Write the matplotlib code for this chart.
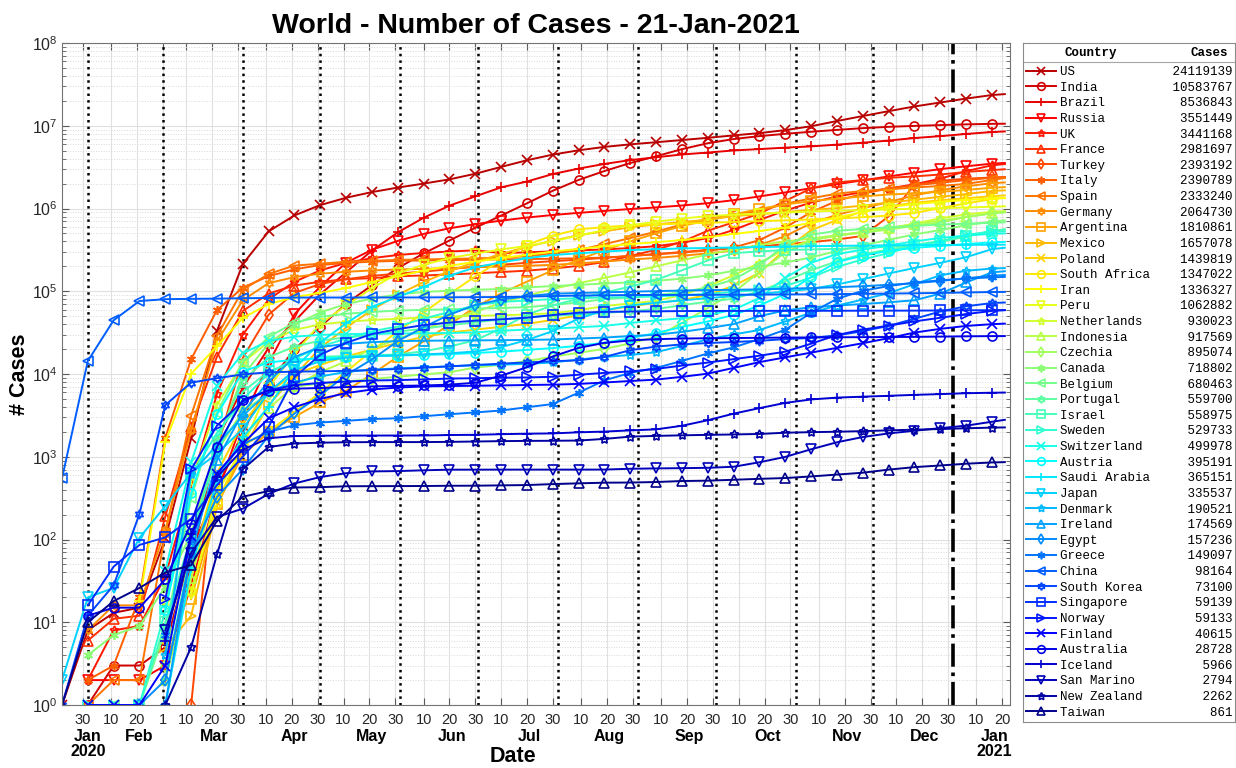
import numpy as np
import matplotlib
matplotlib.use("Agg")
import matplotlib.pyplot as plt
from matplotlib.font_manager import FontProperties

plt.rcParams['font.family'] = ['Liberation Sans', 'DejaVu Sans']

# sample dates (every 10 days, last one = report day)
dates = ['2020-01-22', '2020-02-01', '2020-02-11', '2020-02-21', '2020-03-02', '2020-03-12',
         '2020-03-22', '2020-04-01', '2020-04-11', '2020-04-21', '2020-05-01', '2020-05-11',
         '2020-05-21', '2020-05-31', '2020-06-10', '2020-06-20', '2020-06-30', '2020-07-10',
         '2020-07-20', '2020-07-30', '2020-08-09', '2020-08-19', '2020-08-29', '2020-09-08',
         '2020-09-18', '2020-09-28', '2020-10-08', '2020-10-18', '2020-10-28', '2020-11-07',
         '2020-11-17', '2020-11-27', '2020-12-07', '2020-12-17', '2020-12-27', '2021-01-06',
         '2021-01-16', '2021-01-21']

countries = ['US', 'India', 'Brazil', 'Russia', 'UK', 'France', 'Turkey', 'Italy', 'Spain',
             'Germany', 'Argentina', 'Mexico', 'Poland', 'South Africa', 'Iran', 'Peru',
             'Netherlands', 'Indonesia', 'Czechia', 'Canada', 'Belgium', 'Portugal', 'Israel',
             'Sweden', 'Switzerland', 'Austria', 'Saudi Arabia', 'Japan', 'Denmark', 'Ireland',
             'Egypt', 'Greece', 'China', 'South Korea', 'Singapore', 'Norway', 'Finland',
             'Australia', 'Iceland', 'San Marino', 'New Zealand', 'Taiwan']

# cumulative confirmed cases at the dates above
us = [1, 8, 13, 15, 103, 1663, 33272, 213372, 529000, 825000, 1100000, 1350000, 1580000,
      1790000, 2000000, 2250000, 2630000, 3180000, 3830000, 4480000, 5050000, 5550000, 5960000,
      6320000, 6720000, 7150000, 7650000, 8150000, 8860000, 9860000, 11400000, 13100000,
      15000000, 17100000, 19100000, 21300000, 23500000, 24119139]
india = [0, 1, 3, 3, 5, 73, 396, 1998, 7600, 20080, 37257, 70768, 118226, 190609, 286579,
         410451, 585493, 820916, 1155191, 1638870, 2215074, 2836925, 3542733, 4280422, 5214677,
         6145291, 6906151, 7494551, 7990322, 8462080, 8912907, 9351109, 9703770, 9956557,
         10187850, 10395278, 10543659, 10583767]
brazil = [0, 0, 0, 0, 2, 52, 1593, 6836, 20727, 43079, 92202, 169594, 310087, 514849, 772416,
          1083341, 1402041, 1800827, 2118646, 2610102, 3035422, 3456652, 3846153, 4162073,
          4495183, 4745464, 5028444, 5224362, 5439641, 5631181, 5911758, 6238350, 6623911,
          7110434, 7484285, 7961673, 8393492, 8536843]
russia = [0, 2, 2, 2, 3, 28, 367, 2777, 13584, 52763, 114431, 221344, 317554, 405843, 493023,
          576952, 646929, 713936, 777486, 834499, 885718, 935066, 985346, 1030690, 1086955,
          1159573, 1260112, 1399334, 1563976, 1760002, 1971013, 2187990, 2439163, 2707945,
          2992706, 3236787, 3483531, 3551449]
uk = [0, 2, 8, 9, 36, 459, 5741, 29865, 79874, 130172, 178685, 220449, 251192, 274219, 290143,
      302138, 312640, 288953, 295372, 303181, 311641, 320286, 332752, 350100, 385936, 439013,
      549997, 726483, 945378, 1177415, 1394299, 1582357, 1743102, 1961911, 2294369, 2825007,
      3327125, 3441168]
france = [0, 6, 11, 12, 191, 2284, 16243, 57749, 93790, 117324, 130185, 139519, 144163, 151753,
          155136, 159452, 164801, 170752, 177338, 187919, 202775, 225043, 267077, 317706, 396032,
          538569, 681256, 867197, 1235132, 1748705, 2065138, 2208699, 2345648, 2442990, 2574041,
          2767312, 2910989, 2981697]
turkey = [0, 0, 0, 0, 0, 1, 1236, 15679, 52167, 95591, 122392, 139771, 153548, 163103, 173036,
          184031, 199906, 208938, 220572, 230873, 240804, 253108, 266546, 281509, 297717,
          315845, 330388, 347231, 370832, 391739, 421413, 467000, 800000, 1930000, 2160000,
          2290000, 2370000, 2393192]
italy = [0, 2, 3, 20, 1694, 15113, 59138, 110574, 152271, 183957, 207428, 219814, 228006,
         232997, 235763, 238159, 240578, 242639, 244624, 247158, 250103, 255278, 266853, 280153,
         293025, 311364, 338398, 414241, 589766, 902490, 1238072, 1509875, 1742557, 1906377,
         2047696, 2201945, 2352423, 2390789]
spain = [0, 1, 2, 2, 120, 3146, 28768, 104118, 161852, 204178, 215216, 227436, 233037, 239479,
         242280, 245938, 249659, 253908, 264836, 285430, 314362, 370867, 439286, 525549, 640040,
         748266, 848324, 936560, 1136503, 1328832, 1510023, 1628208, 1702328, 1797236, 1869610,
         1982544, 2211967, 2333240]
germany = [0, 8, 16, 16, 130, 2078, 24873, 77872, 125452, 148291, 163009, 171879, 178531,
           183189, 186522, 190299, 195042, 198963, 202799, 208546, 216903, 228621, 242126,
           252298, 267773, 287421, 310144, 361974, 464239, 663706, 837404, 1006394, 1197709,
           1437360, 1665204, 1854396, 2020000, 2064730]
argentina = [0, 0, 0, 0, 0, 19, 266, 1054, 1975, 3031, 4532, 6278, 9931, 16214, 24761, 39570,
             64530, 94060, 130774, 178996, 241811, 312659, 401239, 500034, 613658, 723132,
             848049, 989680, 1116609, 1228814, 1318384, 1399431, 1475222, 1524372, 1590513,
             1676171, 1783047, 1810861]
mexico = [0, 0, 0, 0, 5, 12, 251, 1215, 4219, 9501, 20739, 36327, 59567, 90664, 129184, 175202,
          226089, 282283, 344224, 408449, 475902, 531239, 591712, 642860, 688954, 730317, 809751,
          851227, 906863, 961938, 1011153, 1084207, 1175850, 1277499, 1383434, 1493569, 1630258,
          1657078]
poland = [0, 0, 0, 0, 0, 49, 634, 2554, 6088, 9856, 12877, 16326, 19739, 23786, 28201, 31620,
          34393, 37216, 40383, 45031, 51167, 58611, 66062, 71947, 78330, 89962, 116338, 167230,
          319205, 546425, 725122, 924422, 1063449, 1171854, 1257799, 1329966, 1410000, 1439819]
south_africa = [0, 0, 0, 0, 0, 24, 274, 1380, 2028, 3465, 5951, 10652, 19137, 32683, 55421,
                92681, 151209, 238339, 364328, 471123, 559859, 596060, 625056, 640441, 657627,
                671669, 686891, 703793, 719714, 737278, 757144, 785139, 821889, 882325, 1011871,
                1149591, 1300000, 1347022]
iran = [0, 0, 0, 18, 1501, 10075, 21638, 47593, 70029, 84802, 95646, 109286, 129341, 151466,
        177938, 202584, 227662, 250458, 276202, 301530, 324692, 347835, 371816, 391112, 416198,
        449960, 492378, 534631, 588648, 673250, 775121, 908346, 1040547, 1131077, 1200465,
        1268263, 1320000, 1336327]
peru = [0, 0, 0, 0, 0, 22, 363, 1323, 6848, 17837, 40459, 67307, 108769, 164476, 208823,
        251338, 285213, 319646, 353590, 400683, 471012, 549321, 629961, 691575, 756412, 808714,
        839534, 868675, 892497, 920010, 938268, 957811, 976116, 993827, 1008908, 1027602,
        1050000, 1062882]
netherlands = [0, 0, 0, 0, 18, 503, 4216, 13696, 24571, 34134, 39791, 42788, 44888, 46545,
               47945, 49722, 50487, 51252, 52404, 54301, 59055, 66221, 71129, 76548, 90047,
               114540, 156129, 219880, 323505, 414090, 468839, 513637, 569657, 656018, 762226,
               848932, 911000, 930023]
indonesia = [0, 0, 0, 0, 2, 34, 514, 1677, 3842, 7135, 10551, 14265, 20162, 26473, 34316, 45029,
             56385, 72347, 88214, 106336, 125396, 144945, 169195, 200035, 236519, 278722, 320564,
             361867, 400483, 433836, 474455, 522581, 581550, 650197, 713365, 788402, 880000,
             917569]
czechia = [0, 0, 0, 0, 3, 116, 1165, 3589, 5732, 7033, 7682, 8123, 8699, 9268, 9892, 10514,
           11954, 12919, 14324, 16213, 18050, 20094, 23441, 28156, 41406, 62522, 97059, 170620,
           293940, 412964, 472669, 514637, 553891, 621138, 678613, 787852, 872000, 895074]
canada = [0, 4, 7, 9, 27, 117, 1465, 9560, 23318, 39401, 55572, 70091, 81324, 91681, 97943,
          101637, 104204, 106434, 111124, 115470, 119451, 123873, 127940, 133748, 141911, 155301,
          176353, 198151, 222887, 256148, 306468, 359064, 418208, 486255, 549426, 628016, 694000,
          718802]
belgium = [0, 0, 1, 1, 8, 314, 3401, 13964, 28018, 41889, 49032, 53449, 56235, 58381, 59569,
           60550, 61727, 62781, 64258, 68006, 73401, 79826, 84577, 89450, 97525, 111189, 138422,
           206845, 360200, 482237, 537874, 565999, 590426, 615883, 639734, 655585, 671000,
           680463]
portugal = [0, 0, 0, 0, 2, 78, 1600, 8251, 15987, 21379, 25351, 27679, 29660, 32500, 35306,
            38841, 42141, 45679, 48390, 50868, 52351, 54701, 57448, 60895, 68025, 74717, 81256,
            99911, 132616, 179324, 230124, 280394, 318640, 358296, 394573, 456533, 528469,
            559700]
israel = [0, 0, 0, 1, 10, 109, 1071, 6092, 10743, 13942, 16101, 16506, 16717, 17285, 18795,
          21512, 25547, 35533, 52003, 67542, 80991, 96521, 113655, 136823, 179071, 235629,
          288440, 303109, 314649, 319727, 325410, 332317, 345409, 362950, 403536, 466154,
          537000, 558975]
sweden = [0, 1, 1, 1, 14, 599, 1934, 4947, 10151, 15322, 21520, 26670, 32809, 37542, 46814,
          56043, 67667, 74333, 77281, 80422, 82323, 84294, 84532, 86505, 89436, 92863, 98451,
          103200, 115785, 146461, 196446, 243129, 288499, 357466, 396048, 482043, 523486,
          529733]
switzerland = [0, 0, 0, 0, 42, 858, 7245, 17768, 25107, 28268, 29705, 30305, 30658, 30871,
               31011, 31292, 31851, 33290, 34477, 35232, 36708, 38124, 41346, 44401, 47179,
               51492, 59709, 83159, 145044, 221093, 280648, 318290, 358568, 400236, 440807,
               470789, 495000, 499978]
austria = [0, 0, 0, 0, 14, 361, 3244, 10711, 13806, 14873, 15452, 15833, 16404, 16731, 17005,
           17341, 17941, 18597, 19573, 20558, 21919, 23842, 27133, 31259, 37095, 43191, 51765,
           67207, 92932, 149011, 225099, 269676, 308617, 334521, 352646, 371683, 390000,
           395191]
saudi_arabia = [0, 0, 0, 0, 1, 45, 511, 1720, 4033, 11631, 24097, 41014, 65077, 85261,
                112288, 154233, 194225, 223327, 250920, 274219, 287262, 300933, 313911, 322237,
                329271, 333648, 337711, 341854, 346047, 349936, 353255, 356389, 358713, 360516,
                362061, 363485, 364930, 365151]
japan = [2, 20, 26, 105, 254, 639, 1086, 2178, 6005, 11135, 14281, 15777, 16424, 16804, 17251,
         17799, 18723, 21129, 25736, 33049, 46807, 58728, 67264, 72726, 77494, 82618, 87445,
         93127, 99113, 106667, 120815, 140148, 163929, 190950, 220236, 257836, 323000, 335537]
denmark = [0, 0, 0, 0, 4, 617, 1395, 3107, 6174, 7912, 9356, 10591, 11289, 11699, 12035,
           12391, 12768, 12946, 13262, 13789, 14959, 16056, 16985, 18356, 21847, 26213, 30057,
           34023, 43174, 55121, 67105, 79352, 94799, 121593, 155826, 176837, 188000, 190521]
ireland = [0, 0, 0, 0, 1, 70, 906, 3447, 8089, 16040, 21176, 23135, 24251, 24990, 25229, 25391,
           25489, 25628, 25802, 26109, 26838, 27547, 28760, 29774, 32271, 35740, 40086, 49962,
           58767, 64046, 67099, 70143, 73491, 77776, 93532, 127657, 169000, 174569]
egypt = [0, 0, 0, 1, 2, 67, 327, 710, 1794, 3333, 5537, 9746, 15003, 24985, 36829, 52211,
         68311, 79254, 87172, 93356, 95314, 96914, 98727, 100403, 101900, 103141, 104156,
         105297, 107209, 109201, 111955, 115183, 119589, 124891, 133053, 143464, 154000, 157236]
greece = [0, 0, 0, 0, 7, 99, 624, 1415, 2011, 2401, 2591, 2716, 2853, 2917, 3088, 3266, 3432,
          3622, 3964, 4337, 5942, 8381, 10317, 11832, 14400, 17707, 20947, 26469, 34299, 54809,
          81019, 101287, 115471, 127474, 135456, 143074, 147000, 149097]
china = [548, 14380, 44653, 76199, 80174, 80932, 81435, 82361, 82941, 83853, 83959, 84011,
         84063, 84128, 84198, 84553, 84785, 85226, 86053, 87489, 88744, 89292, 89952, 90208,
         90340, 90545, 90754, 91128, 91498, 91868, 92344, 93062, 93703, 94479, 95463, 96673,
         97800, 98164]
south_korea = [1, 12, 28, 204, 4212, 7869, 8897, 9887, 10480, 10683, 10774, 10909, 11142,
               11503, 11902, 12373, 12850, 13338, 13816, 14269, 14626, 16058, 19400, 21432,
               22783, 23661, 24353, 25199, 26385, 27284, 29311, 32887, 38161, 46453, 56872,
               65818, 72000, 73100]
singapore = [0, 16, 47, 86, 106, 178, 455, 1000, 2299, 9125, 17101, 23822, 30426, 34884, 38965,
             41833, 44122, 45783, 47912, 51531, 55104, 56266, 56812, 57166, 57576, 57784, 57880,
             57941, 57987, 58043, 58116, 58213, 58291, 58353, 58569, 58821, 59059, 59139]
norway = [0, 0, 0, 0, 19, 702, 2383, 4665, 6360, 7338, 7809, 8099, 8352, 8437, 8594, 8815,
          8896, 9015, 9085, 9260, 9801, 10312, 10747, 11521, 12644, 13741, 15118, 16639, 18616,
          23240, 29536, 34436, 38401, 43257, 47771, 53010, 57800, 59133]
finland = [0, 1, 1, 1, 3, 109, 626, 1446, 2905, 3981, 4995, 5880, 6493, 6859, 7073, 7151, 7214,
           7279, 7362, 7432, 7590, 7897, 8225, 8557, 9239, 10098, 11851, 13917, 15892, 18140,
           20693, 23544, 27112, 31657, 35122, 38100, 40000, 40615]
australia = [0, 12, 15, 15, 33, 156, 1314, 4862, 6303, 6645, 6766, 6948, 7081, 7185, 7265, 7436,
             7834, 9553, 12069, 16298, 20698, 23773, 25448, 26373, 26813, 27044, 27182, 27380,
             27553, 27667, 27784, 27873, 27986, 28082, 28293, 28544, 28691, 28728]
iceland = [0, 0, 0, 0, 6, 117, 568, 1220, 1675, 1778, 1797, 1802, 1804, 1806, 1807, 1830, 1842,
           1873, 1899, 1914, 1974, 2014, 2083, 2142, 2369, 2762, 3318, 3868, 4477, 4924, 5185,
           5319, 5451, 5597, 5714, 5857, 5939, 5966]
san_marino = [0, 0, 0, 0, 8, 69, 187, 236, 356, 476, 569, 633, 665, 671, 686, 698, 698, 699,
              699, 699, 699, 700, 716, 723, 728, 735, 757, 858, 996, 1231, 1496, 1731, 1914,
              2060, 2218, 2375, 2649, 2794]
new_zealand = [0, 0, 0, 0, 1, 5, 66, 708, 1312, 1445, 1479, 1497, 1503, 1504, 1504, 1513, 1528,
               1544, 1555, 1560, 1570, 1643, 1750, 1787, 1815, 1839, 1859, 1886, 1952, 1982,
               2006, 2039, 2085, 2123, 2162, 2208, 2250, 2262]
taiwan = [1, 10, 18, 26, 40, 49, 169, 329, 385, 425, 429, 440, 441, 442, 443, 446, 447, 451,
          455, 467, 477, 486, 488, 495, 509, 514, 527, 541, 553, 578, 609, 641, 699, 749, 784,
          824, 853, 861]

series = [us, india, brazil, russia, uk, france, turkey, italy, spain, germany, argentina,
          mexico, poland, south_africa, iran, peru, netherlands, indonesia, czechia, canada,
          belgium, portugal, israel, sweden, switzerland, austria, saudi_arabia, japan, denmark,
          ireland, egypt, greece, china, south_korea, singapore, norway, finland, australia,
          iceland, san_marino, new_zealand, taiwan]


def matlab_jet(m):
    # same construction as MATLAB's jet(m)
    n = int(np.ceil(m / 4))
    u = np.concatenate([np.arange(1, n + 1) / n, np.ones(n - 1), np.arange(n, 0, -1) / n])
    g = int(np.ceil(n / 2)) - (1 if m % 4 == 1 else 0) + np.arange(1, len(u) + 1)
    J = np.zeros((m, 3))
    for col, idx in ((0, g + n), (1, g), (2, g - n)):
        ok = (idx >= 1) & (idx <= m)
        J[idx[ok] - 1, col] = u[ok]
    return J


colors = matlab_jet(len(countries))[::-1]
markers = ['x', 'o', '+', 'v', (5, 1, 0), '^', 'd', (6, 2, 0), '<', (6, 1, 0), 's', '>']

t = np.array(dates, dtype='datetime64[D]')
x0 = np.datetime64('2020-01-22')
x1 = np.datetime64('2021-01-23')

fig = plt.figure(figsize=(12.36, 7.68), dpi=100)
ax = fig.add_axes([62 / 1236, 1 - 705 / 768, 948 / 1236, 662 / 768])

handles = []
for i, (name, vals) in enumerate(zip(countries, series)):
    y = np.array(vals, dtype=float)
    y[y <= 0] = np.nan
    h, = ax.plot(t, y, color=colors[i], lw=1.4, marker=markers[i % len(markers)], ms=6.5,
                 mfc='none', mew=1.2, markevery=list(range(len(t) - 1)))
    handles.append(h)

ax.set_yscale('log')
ax.set_ylim(1, 1e8)
ax.set_yticks([10.0 ** k for k in range(9)])
ax.set_xlim(x0, x1)

# ticks on day 10/20/30 of every month (Feb 30 -> Mar 1)
ticks, tlabels = [], []
months = np.arange(np.datetime64('2020-01'), np.datetime64('2021-02'))
for mo in months:
    start = mo.astype('datetime64[D]')
    for d in (10, 20, 30):
        day = start + (d - 1)
        if x0 <= day <= x1:
            ticks.append(day)
            tlabels.append(str(day.astype(object).day))
ax.set_xticks(ticks)
ax.set_xticklabels(tlabels)
ax.tick_params(axis='x', which='minor', bottom=False, top=False)

ax.tick_params(which='both', direction='in', top=True, right=True, colors='0.35',
               labelcolor='0.15')
ax.tick_params(which='major', length=5, width=0.8)
ax.tick_params(which='minor', length=3, width=0.6)
ax.tick_params(axis='x', labelsize=10.5, pad=6)
ax.tick_params(axis='y', labelsize=11.5, pad=3)
for s in ax.spines.values():
    s.set_color('0.45')
    s.set_linewidth(0.8)

ax.grid(which='major', color='0.88', lw=0.8)
ax.grid(which='minor', axis='y', color='0.85', ls=':', lw=0.7)
ax.set_axisbelow(True)

# month separators (dotted), year change (dash-dot)
for mo in months[1:-1]:
    ax.axvline(mo.astype('datetime64[D]'), color='k', ls=':', lw=1.8, zorder=1.5)
ax.axvline(months[-1].astype('datetime64[D]'), color='k', ls='-.', lw=2.6, zorder=1.5)

# month names under the day numbers
month_names = ['Jan\n2020', 'Feb', 'Mar', 'Apr', 'May', 'Jun', 'Jul', 'Aug', 'Sep', 'Oct',
               'Nov', 'Dec', 'Jan\n2021']
month_at = ['2020-02-01', '2020-02-21', '2020-03-21', '2020-04-21', '2020-05-21', '2020-06-21',
            '2020-07-21', '2020-08-21', '2020-09-21', '2020-10-21', '2020-11-21', '2020-12-21',
            '2021-01-17']
for name, d in zip(month_names, month_at):
    ax.text(np.datetime64(d), -0.036, name, transform=ax.get_xaxis_transform(), ha='center',
            va='top', fontsize=11.5, fontweight='bold', linespacing=1.05)

ax.set_title('World - Number of Cases - 21-Jan-2021', fontsize=20.5, fontweight='bold', pad=7)
ax.set_xlabel('Date', fontsize=15.5, fontweight='bold')
ax.xaxis.set_label_coords(0.476, -0.062)
ax.set_ylabel('# Cases', fontsize=15.5, fontweight='bold')
ax.yaxis.set_label_coords(-0.034, 0.5)

# table-style legend to the right
lax = fig.add_axes([1023 / 1236, 1 - 722 / 768, 212 / 1236, 679 / 768])
lax.set_xticks([])
lax.set_yticks([])
for s in lax.spines.values():
    s.set_color('0.55')
    s.set_linewidth(0.8)
mono = FontProperties(family='Liberation Mono', size=9)
mono_b = FontProperties(family='Liberation Mono', size=9, weight='bold')
lax.text(0.32, 0.986, 'Country', ha='center', va='center', fontproperties=mono_b)
lax.text(0.965, 0.986, 'Cases', ha='right', va='center', fontproperties=mono_b)
lax.axhline(0.972, color='0.65', lw=0.8)
labels = [f"{name:<14}{vals[-1]:>9d}" for name, vals in zip(countries, series)]
lax.legend(handles, labels, loc='upper left', bbox_to_anchor=(0.015, 0.966), frameon=False,
           prop=mono, handlelength=2.4, handletextpad=0.3, labelspacing=0.29, borderpad=0,
           borderaxespad=0, numpoints=1, markerscale=0.85)

fig.savefig('out.png', dpi=100)
